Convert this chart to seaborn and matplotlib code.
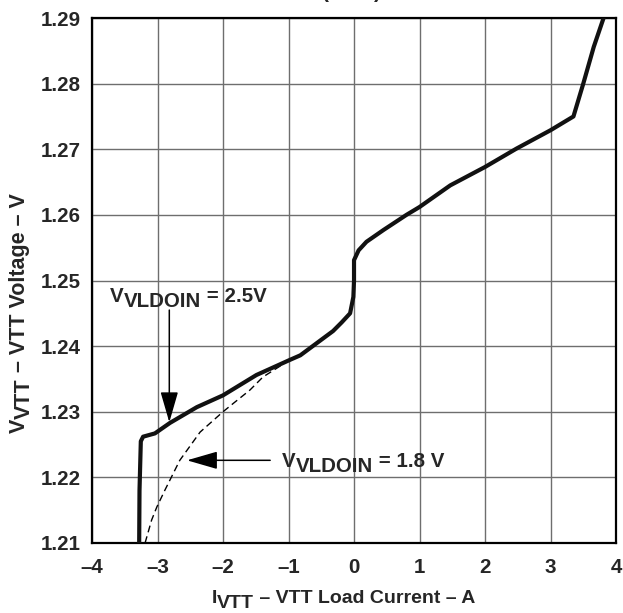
import matplotlib
matplotlib.use("Agg")
import matplotlib.pyplot as plt
from matplotlib.patches import ArrowStyle
from matplotlib.text import Annotation
import seaborn as sns
import pandas as pd

# VTT load regulation, VLDOIN = 2.5 V (solid)
i_25 = [-3.28, -3.275, -3.255, -3.22, -3.04, -2.81, -2.40, -2.00, -1.49, -0.98,
        -0.82, -0.32, -0.19, -0.06, -0.01, 0.00, 0.00, 0.07, 0.19, 0.45,
        0.80, 1.00, 1.47, 2.00, 2.48, 3.00, 3.35, 3.50, 3.66, 3.81]
v_25 = [1.2100, 1.2180, 1.2255, 1.2262, 1.2267, 1.2283, 1.2307, 1.2325, 1.2356, 1.2379,
        1.2386, 1.2423, 1.2436, 1.2450, 1.2475, 1.2500, 1.2531, 1.2546, 1.2559, 1.2577,
        1.2600, 1.2612, 1.2645, 1.2673, 1.2701, 1.2729, 1.2750, 1.2800, 1.2856, 1.2900]

# VTT load regulation, VLDOIN = 1.8 V (dashed)
i_18 = [-3.19, -3.09, -3.01, -2.885, -2.66, -2.35, -2.00, -1.84, -1.59, -1.39,
        -0.98, -0.82, -0.32, -0.19, -0.06, -0.01, 0.00, 0.00, 0.07, 0.19, 0.45,
        0.80, 1.00, 1.47, 2.00, 2.48, 3.00, 3.35, 3.50, 3.66, 3.81]
v_18 = [1.2100, 1.2135, 1.2155, 1.2181, 1.2226, 1.2269, 1.2300, 1.2313, 1.2333, 1.2353,
        1.2379, 1.2386, 1.2423, 1.2436, 1.2450, 1.2475, 1.2500, 1.2531, 1.2546, 1.2559, 1.2577,
        1.2600, 1.2612, 1.2645, 1.2673, 1.2701, 1.2729, 1.2750, 1.2800, 1.2856, 1.2900]

x_ticks = [-4, -3, -2, -1, 0, 1, 2, 3, 4]
x_tick_labels = ["\u20134", "\u20133", "\u20132", "\u20131", "0", "1", "2", "3", "4"]
y_ticks = [1.21, 1.22, 1.23, 1.24, 1.25, 1.26, 1.27, 1.28, 1.29]
y_tick_labels = ["1.21", "1.22", "1.23", "1.24", "1.25", "1.26", "1.27", "1.28", "1.29"]

sns.set_style("white")
plt.rcParams["font.family"] = ["Liberation Sans", "DejaVu Sans"]
plt.rcParams["font.weight"] = "bold"

TICK_FS = 14.8
NOTE_FS = 14.8
XLAB_FS = 14.0
YLAB_FS = 15.5

fig = plt.figure(figsize=(6.23, 6.13), dpi=100)
ax = fig.add_axes([0.1477, 0.1142, 0.8411, 0.8564])

df18 = pd.DataFrame({"I": i_18, "V": v_18})
df25 = pd.DataFrame({"I": i_25, "V": v_25})
sns.lineplot(data=df18, x="I", y="V", sort=False, estimator=None, ax=ax,
             color="black", lw=1.0, linestyle=(0, (5, 3)), zorder=3)
sns.lineplot(data=df25, x="I", y="V", sort=False, estimator=None, ax=ax,
             color="#111111", lw=3.0, zorder=4, solid_joinstyle="round")

ax.set_xlim(-4, 4)
ax.set_ylim(1.21, 1.29)
ax.set_xticks(x_ticks)
ax.set_xticklabels(x_tick_labels, fontsize=TICK_FS, fontweight="bold")
ax.set_yticks(y_ticks)
ax.set_yticklabels(y_tick_labels, fontsize=TICK_FS, fontweight="bold")
ax.tick_params(axis="x", length=0, pad=11)
ax.tick_params(axis="y", length=0, pad=8)
ax.grid(True, color="#6e6e6e", lw=1.0)
ax.set_axisbelow(True)
for s in ax.spines.values():
    s.set_color("black")
    s.set_linewidth(1.6)
    s.set_visible(True)
ax.set_xlabel("")
ax.set_ylabel("")


def chained(first_xy, parts, size, rotation=0):
    """Draw text pieces one after another; each piece carries a baseline shift in points."""
    s0, _ = parts[0]
    if rotation == 0:
        prev = fig.text(first_xy[0], first_xy[1], s0, transform=fig.transFigure,
                        ha="left", va="baseline", fontsize=size, fontweight="bold")
        for s, dy in parts[1:]:
            prev = fig.add_artist(Annotation(
                s, xy=(1, 0), xycoords=prev, xytext=(0, dy), textcoords="offset points",
                ha="left", va="bottom", fontsize=size, fontweight="bold"))
    else:
        prev = fig.text(first_xy[0], first_xy[1], s0, transform=fig.transFigure,
                        ha="left", va="baseline", rotation=90, rotation_mode="anchor",
                        fontsize=size, fontweight="bold")
        for s, dy in parts[1:]:
            prev = fig.add_artist(Annotation(
                s, xy=(1, 1), xycoords=prev, xytext=(-dy, 0), textcoords="offset points",
                ha="right", va="bottom", rotation=90, fontsize=size, fontweight="bold"))
    return prev


# axis titles with subscripts
chained((211.7 / 623, 1 - 603 / 613),
        [("I", 0), ("VTT", -3.8), (" \u2013 VTT Load Current \u2013 A", 3.8)], XLAB_FS)
chained((25 / 623, 1 - 433 / 613),
        [("V", 0), ("VTT", -3.8), (" \u2013 VTT Voltage \u2013 V", 3.8)], YLAB_FS, rotation=90)

# curve labels
chained((110 / 623, 1 - 302 / 613),
        [("V", 0), ("VLDOIN", -3.8), (" = 2.5V", 3.8)], NOTE_FS)
chained((282.3 / 623, 1 - 466.7 / 613),
        [("V", 0), ("VLDOIN", -3.8), (" = 1.8 V", 3.8)], NOTE_FS)

head = ArrowStyle("-|>", head_length=1.9, head_width=0.55)
ax.annotate("", xy=(-2.82, 1.2284), xytext=(-2.82, 1.2455),
            arrowprops=dict(arrowstyle=head, color="black", lw=1.1, mutation_scale=10,
                            shrinkA=0, shrinkB=0))
ax.annotate("", xy=(-2.55, 1.2226), xytext=(-1.28, 1.2226),
            arrowprops=dict(arrowstyle=head, color="black", lw=1.1, mutation_scale=10,
                            shrinkA=0, shrinkB=0))

# chart title, its lower edge runs off the top of the canvas
fig.text(0.565, 1.0035, "(DDR)", ha="center", va="baseline", fontsize=15, fontweight="bold")

fig.savefig("out.png", dpi=100, facecolor="white")
